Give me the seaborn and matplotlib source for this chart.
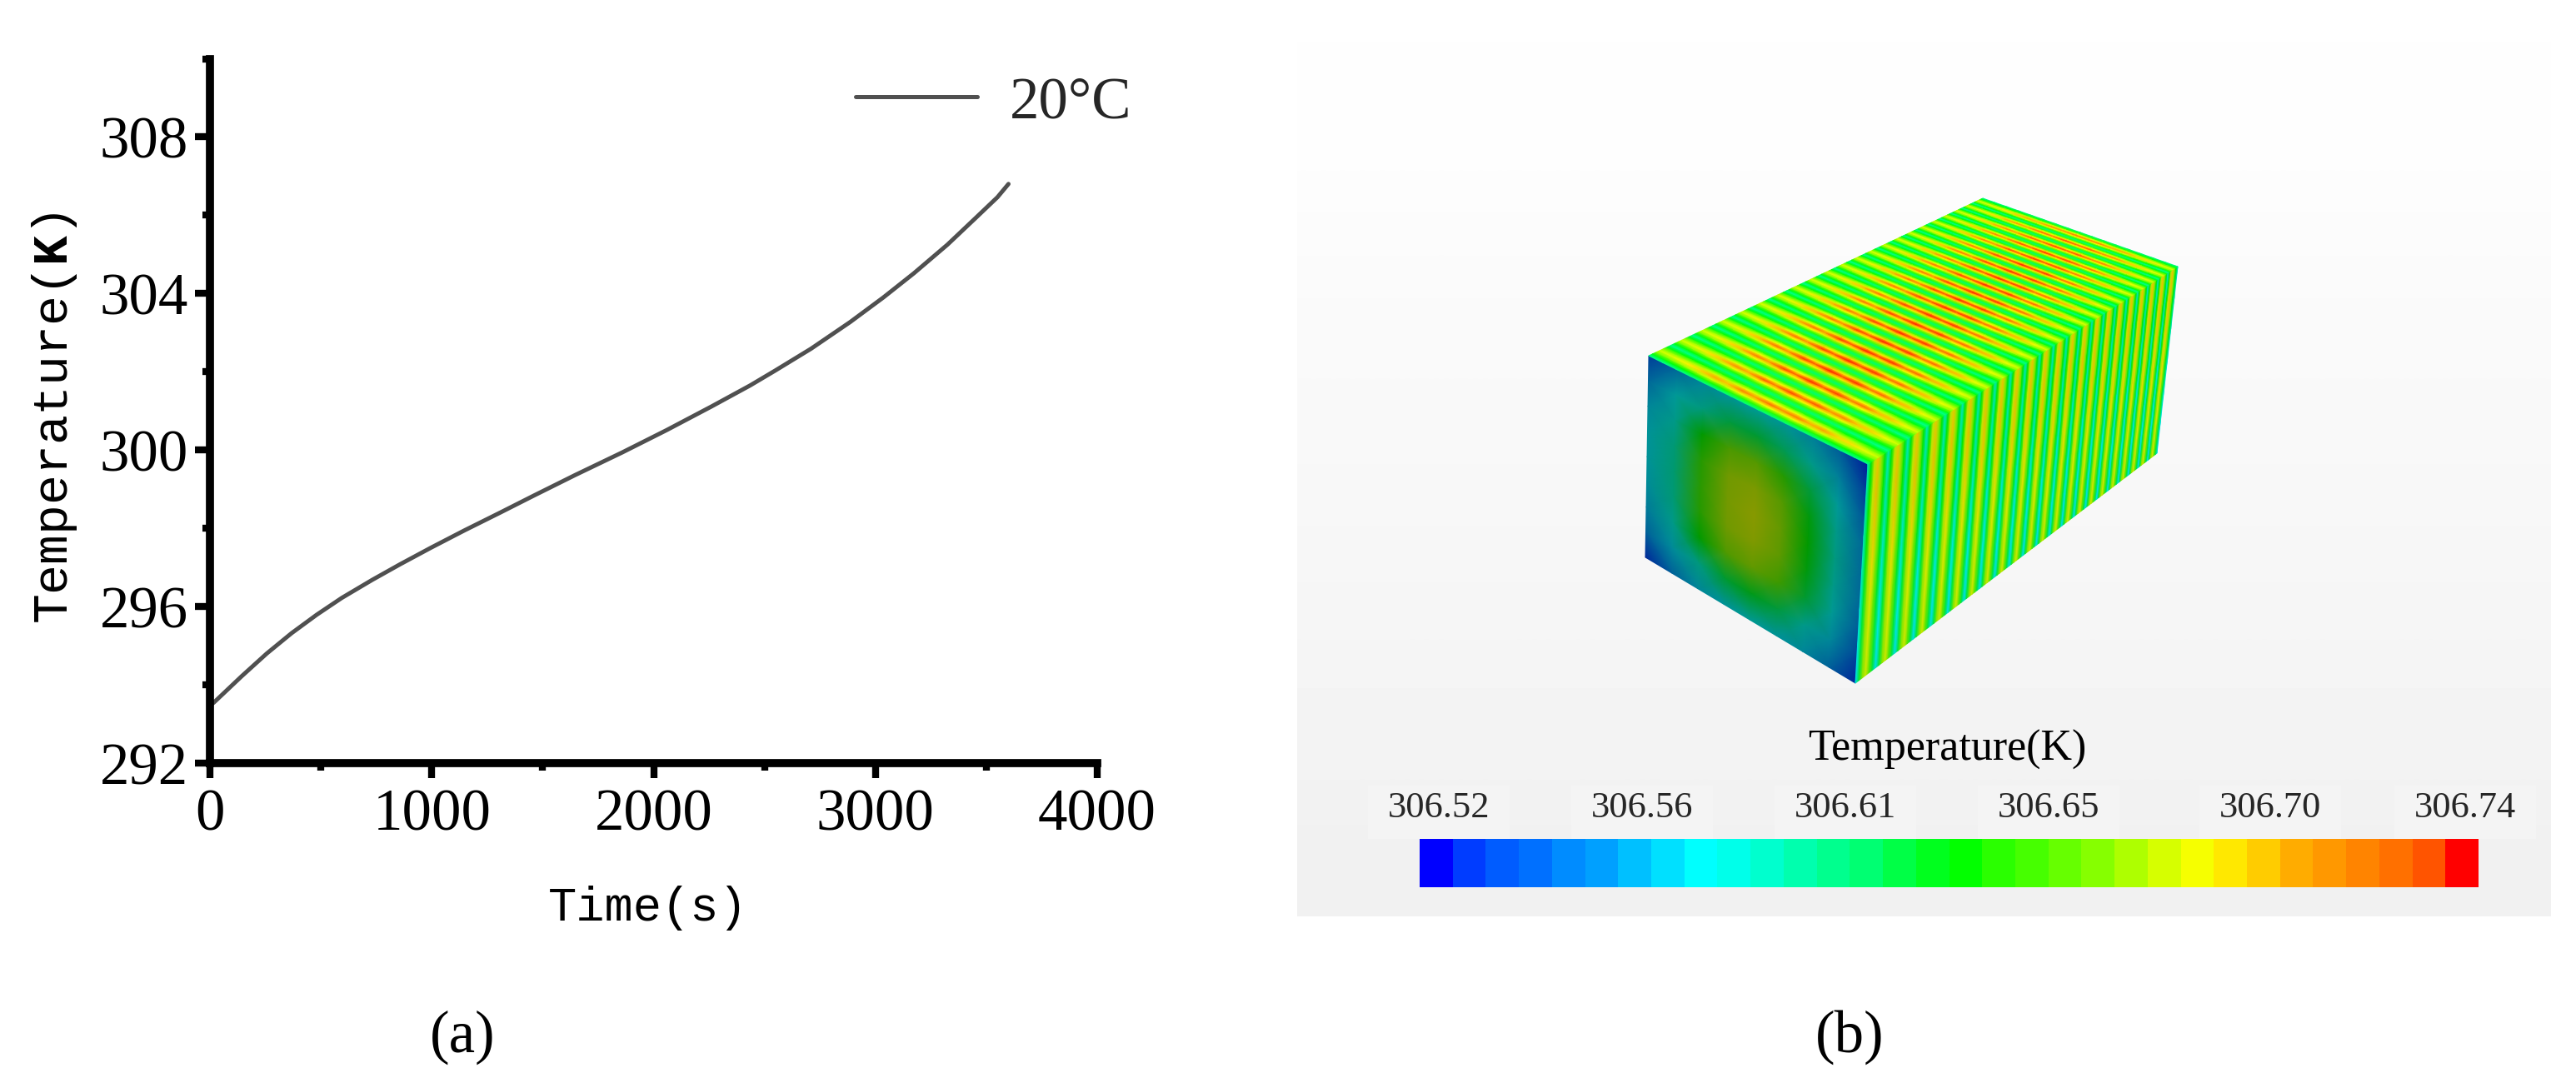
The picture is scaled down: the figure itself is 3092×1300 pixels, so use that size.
import numpy as np
import pandas as pd
import matplotlib
matplotlib.use('Agg')
import matplotlib.pyplot as plt
from matplotlib.colors import LinearSegmentedColormap
from matplotlib.patches import Rectangle
import seaborn as sns

# curve of panel (a)
time_s = [0, 18, 143, 256, 368, 481, 594, 731, 857, 995, 1145, 1308, 1458, 1646, 1859, 2059, 2260, 2435,
          2548, 2710, 2886, 3036, 3174, 3325, 3450, 3550, 3600]
temp_k = [293.47, 293.55, 294.22, 294.80, 295.32, 295.79, 296.22, 296.68, 297.08, 297.50, 297.94, 298.40,
          298.83, 299.36, 299.94, 300.51, 301.11, 301.65, 302.03, 302.59, 303.27, 303.90, 304.52, 305.25,
          305.92, 306.46, 306.80]
legend_label = '20°C'

# colour bar of panel (b)
bar_levels = [0.00, 0.06, 0.09, 0.11, 0.14, 0.16, 0.19, 0.22, 0.25, 0.27, 0.30, 0.33, 0.36, 0.39, 0.43, 0.47,
              0.50, 0.54, 0.57, 0.60, 0.63, 0.67, 0.71, 0.74, 0.77, 0.80, 0.83, 0.85, 0.87, 0.89, 0.915, 1.00]
bar_labels = ['306.52', '306.56', '306.61', '306.65', '306.70', '306.74']
bar_label_cells = [0.58, 6.72, 12.87, 19.0, 25.7, 31.6]

# front face of the block, colour level read on a coarse grid
front_levels = [
    [.10, .17, .22, .24, .25, .24, .21, .15, .05],
    [.17, .25, .30, .40, .42, .36, .28, .21, .10],
    [.22, .28, .50, .62, .64, .56, .40, .25, .14],
    [.24, .31, .56, .68, .70, .64, .48, .28, .17],
    [.24, .32, .57, .69, .72, .66, .50, .29, .17],
    [.23, .31, .56, .68, .71, .65, .48, .28, .17],
    [.20, .28, .50, .63, .66, .60, .42, .26, .15],
    [.16, .23, .30, .42, .46, .40, .28, .22, .11],
    [.07, .16, .22, .24, .26, .24, .22, .16, .06],
]
# one fin, seen from the side and from above
side_fin = [.28, .47, .68, .76, .64, .47]
top_fin_base = [.36, .48, .62, .70, .62, .48]
top_fin_gain = [.04, .10, .18, .28, .18, .10]
top_width_heat = [.0, .1, .3, .45, .7, .55, .9, .75, 1, .8, .95, .65, .75, .45, .4, .15, .0]
top_depth_heat = [.7, .85, .95, 1, 1, 1, 1, 1, 1, 1, 1, 1, 1, 1, 1, 1, 1, .95, .95, .9, .85, .7]
side_height_heat = [.02, .03, .02, 0, -.02, -.03, -.04]

# block corners in picture pixels
front_tl, front_tr = (1979, 427), (2242, 557)
front_bl, front_br = (1975, 669), (2227, 820)
back_tl, back_tr = (2380, 238), (2614, 320)
back_br = (2589, 544)

W, H = 3092, 1300
sns.set_theme(style='ticks')
plt.rcParams['font.family'] = ['Liberation Serif', 'DejaVu Serif']
plt.rcParams['mathtext.fontset'] = 'custom'
plt.rcParams['mathtext.rm'] = 'Liberation Mono'
plt.rcParams['mathtext.bf'] = 'Liberation Mono:bold'

rainbow = [(0, '#0000ff'), (.25, '#00ffff'), (.5, '#00ff00'), (.75, '#ffff00'), (1, '#ff0000')]


def shaded_cmap(shade):
    cols = [(p, tuple(shade * c for c in matplotlib.colors.to_rgb(h))) for p, h in rainbow]
    return LinearSegmentedColormap.from_list('block', cols)


def axes_at(left, top, right, bottom, **kw):
    return fig.add_axes([left / W, 1 - bottom / H, (right - left) / W, (bottom - top) / H], **kw)


def quad_mesh(ax, c00, c01, c10, c11, u, v, levels, shade):
    # u runs from c00 to c01, v from c00 to c10
    uu, vv = np.meshgrid(u, v)
    xs = [(c00[i] * (1 - uu) + c01[i] * uu) * (1 - vv) + (c10[i] * (1 - uu) + c11[i] * uu) * vv for i in (0, 1)]
    ax.pcolormesh(xs[0], xs[1], levels, shading='gouraud', cmap=shaded_cmap(shade), vmin=0, vmax=1)


fig = plt.figure(figsize=(W / 100, H / 100), dpi=100, facecolor='white')

# panel (b) backdrop and block, on an axes measured in picture pixels
ax_b = axes_at(0, 0, W, H)
ax_b.axis('off')
ax_b.imshow([[.996], [.98], [.972], [.96], [.945]], cmap='gray', vmin=0, vmax=1, aspect='auto',
            extent=(1557, 3062, 1100, 50), interpolation='bilinear')
ax_b.set_xlim(0, W)
ax_b.set_ylim(H, 0)

n_fins = len(top_depth_heat)
steps = n_fins * len(side_fin) + 1
depth = np.linspace(0, 1, steps)
depth = depth * 1.5 / (1 + .5 * depth)

side = np.array([[side_fin[i % len(side_fin)] + h for i in range(steps)] for h in side_height_heat])
top = np.array([[top_fin_base[i % 6] + top_fin_gain[i % 6] * w * top_depth_heat[min(i // 6, n_fins - 1)]
                 for i in range(steps)] for w in top_width_heat])

quad_mesh(ax_b, front_tl, front_tr, front_bl, front_br, np.linspace(0, 1, 9), np.linspace(0, 1, 9), front_levels, .6)
quad_mesh(ax_b, front_tr, back_tr, front_br, back_br, depth, np.linspace(0, 1, 7), side, .9)
quad_mesh(ax_b, front_tl, back_tl, front_tr, back_tr, depth, np.linspace(0, 1, 17), top, 1)

# colour bar
bar_left, bar_right = 1704, 2975
cell_w = (bar_right - bar_left) / len(bar_levels)
for cell in bar_label_cells:
    ax_b.add_patch(Rectangle((bar_left + cell * cell_w - 85, 943), 170, 64, fc='#f4f4f4', ec='none'))

ax_bar = axes_at(bar_left, 1007, bar_right, 1065)
sns.heatmap(np.array([bar_levels]), ax=ax_bar, cmap=shaded_cmap(1), vmin=0, vmax=1, cbar=False,
            xticklabels=False, yticklabels=False)
ax_bar.set_xticks(bar_label_cells)
ax_bar.set_xticklabels(bar_labels, fontsize=32)
ax_bar.tick_params(axis='x', bottom=False, top=False, labelbottom=False, labeltop=True, length=0, pad=12)
ax_b.text(2337, 900, 'Temperature(K)', fontsize=37.5, ha='center', va='center', color='black')

# panel (a)
ax = axes_at(252, 70.5, 1317, 916)
data = pd.DataFrame({'Time': time_s, 'Temperature': temp_k})
sns.lineplot(data=data, x='Time', y='Temperature', ax=ax, color='#505050', linewidth=3.6, label=legend_label)
ax.patch.set_alpha(0)
ax.set_xlim(0, 4000)
ax.set_ylim(292, 310)
ax.set_xticks([0, 1000, 2000, 3000, 4000])
ax.set_xticks([500, 1500, 2500, 3500], minor=True)
ax.set_yticks([292, 296, 300, 304, 308])
ax.set_yticks([294, 298, 302, 306, 310], minor=True)
ax.tick_params(which='major', width=6, length=13, labelsize=51, color='black', labelcolor='black')
ax.tick_params(axis='x', which='major', pad=9)
ax.tick_params(axis='y', which='major', pad=6)
ax.tick_params(which='minor', width=6, length=6.5, color='black')
for s in ['top', 'right']:
    ax.spines[s].set_visible(False)
for s in ['left', 'bottom']:
    ax.spines[s].set_linewidth(7)
    ax.spines[s].set_color('black')
ax.set_xlabel('Time(s)', family='Liberation Mono', fontsize=41, color='black')
ax.set_ylabel(r'Temperature($\mathbf{K}$)', family='Liberation Mono', fontsize=43, color='black')
ax.xaxis.set_label_coords(.494, -.174)
ax.yaxis.set_label_coords(-.147, .489)
ax.legend(loc='center left', bbox_to_anchor=(.728, .937), frameon=False, fontsize=51, borderpad=0,
          borderaxespad=0, handlelength=2.06, handletextpad=.55)

fig.text(555 / W, 1 - 1245 / H, '(a)', fontsize=51, ha='center', va='center', color='black')
fig.text(2220 / W, 1 - 1245 / H, '(b)', fontsize=51, ha='center', va='center', color='black')

fig.savefig('out.png', dpi=100)
